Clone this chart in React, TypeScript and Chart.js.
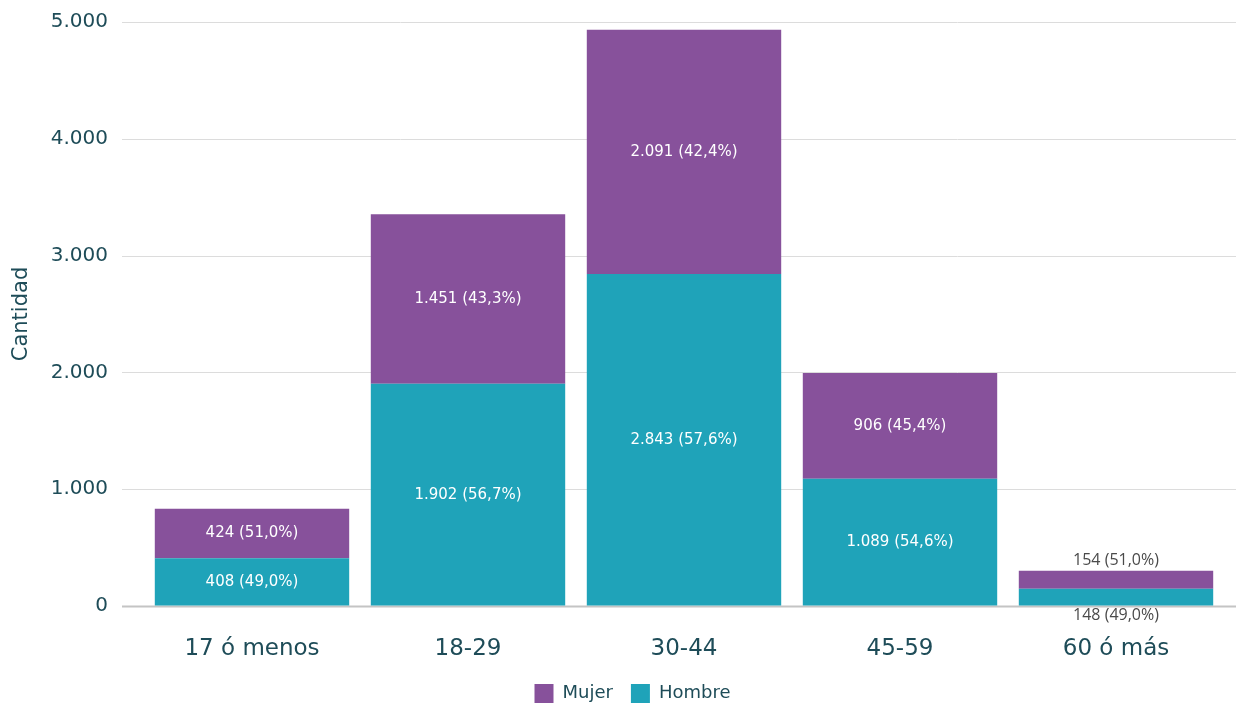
import React, { useEffect, useRef } from "react";
import { Chart, registerables } from "chart.js";

Chart.register(...registerables);

const categories = ["17 ó menos", "18-29", "30-44", "45-59", "60 ó más"];
const mujer = [424, 1451, 2091, 906, 154];
const hombre = [408, 1902, 2843, 1089, 148];
const yTicks = [0, 1000, 2000, 3000, 4000, 5000];

const PURPLE = "#87519B";
const TEAL = "#1FA3B9";
const TEXT = "#1E4C58";
const FONT = "'DejaVu Sans', sans-serif";

function fmtInt(v: number): string {
  const s = Math.round(v).toString();
  return s.replace(/\B(?=(\d{3})+(?!\d))/g, ".");
}
function fmtPct(p: number): string {
  return p.toFixed(1).replace(".", ",") + "%";
}

const gridPlugin = {
  id: "extGrid",
  beforeDatasetsDraw(chart: any) {
    const { ctx } = chart;
    const y = chart.scales.y;
    ctx.save();
    yTicks.forEach((t) => {
      const py = Math.round(y.getPixelForValue(t)) + 0.5;
      ctx.beginPath();
      ctx.strokeStyle = t === 0 ? "#c4c4c4" : "#dcdcdc";
      ctx.lineWidth = t === 0 ? 2 : 1;
      ctx.moveTo(122, py);
      ctx.lineTo(chart.width, py);
      ctx.stroke();
    });
    ctx.restore();
  },
};

const labelPlugin = {
  id: "barLabels",
  afterDatasetsDraw(chart: any) {
    const { ctx } = chart;
    const last = categories.length - 1;
    ctx.save();
    ctx.textAlign = "center";
    ctx.textBaseline = "middle";
    chart.data.datasets.forEach((ds: any, di: number) => {
      const meta = chart.getDatasetMeta(di);
      meta.data.forEach((bar: any, i: number) => {
        const total = mujer[i] + hombre[i];
        const v = ds.data[i];
        const text = fmtInt(v) + " (" + fmtPct((v / total) * 100) + ")";
        const top = Math.min(bar.y, bar.base);
        const bottom = Math.max(bar.y, bar.base);
        if (i === last) {
          ctx.font = "16px 'Open Sans', sans-serif";
          ctx.fillStyle = "#4a4a4a";
          if (ds.label === "Mujer") {
            ctx.fillText(text, bar.x, top - 10);
          } else {
            ctx.fillText(text, bar.x, bottom + 10);
          }
        } else {
          ctx.font = "15px " + FONT;
          ctx.fillStyle = "#ffffff";
          ctx.fillText(text, bar.x, (top + bottom) / 2);
        }
      });
    });
    ctx.restore();
  },
};

export default function App() {
  const ref = useRef<HTMLCanvasElement | null>(null);
  useEffect(() => {
    if (!ref.current) return;
    const chart = new Chart(ref.current, {
      type: "bar",
      data: {
        labels: categories,
        datasets: [
          {
            label: "Hombre",
            data: hombre,
            backgroundColor: TEAL,
            stack: "s",
          },
          {
            label: "Mujer",
            data: mujer,
            backgroundColor: PURPLE,
            stack: "s",
          },
        ],
      },
      options: {
        animation: false,
        responsive: true,
        maintainAspectRatio: false,
        layout: { padding: { top: 0, right: 12, bottom: -9, left: 41 } },
        datasets: { bar: { barPercentage: 0.9, categoryPercentage: 1 } },
        scales: {
          x: {
            stacked: true,
            grid: { display: false, drawTicks: false },
            border: { display: false },
            ticks: {
              padding: 29,
              color: TEXT,
              font: { family: FONT, size: 23 },
            },
            afterFit: (s: any) => {
              s.height = 60;
            },
          },
          y: {
            stacked: true,
            min: 0,
            max: 5000,
            afterBuildTicks: (s: any) => {
              s.ticks = yTicks.map((v) => ({ value: v }));
            },
            grid: {
              display: true,
              drawOnChartArea: false,
              drawTicks: true,
              tickLength: 26,
              color: "rgba(0,0,0,0)",
            },
            border: { display: false },
            ticks: {
              padding: 10,
              color: TEXT,
              font: { family: FONT, size: 20 },
              callback: (v: any) => fmtInt(Number(v)),
            },
            title: {
              display: true,
              text: "Cantidad",
              color: TEXT,
              font: { family: FONT, size: 21 },
              padding: { top: -32, bottom: 0 },
            },
            afterFit: (s: any) => {
              s.width = 103;
            },
          },
        },
        plugins: {
          legend: {
            position: "bottom",
            reverse: true,
            labels: {
              boxWidth: 19,
              boxHeight: 19,
              padding: 18,
              color: TEXT,
              font: { family: FONT, size: 18 },
            },
          },
          tooltip: { enabled: false },
        },
      },
      plugins: [gridPlugin, labelPlugin],
    } as any);
    return () => chart.destroy();
  }, []);
  return (
    <div style={{ position: "fixed", left: 0, top: 0, width: 1236, height: 704, background: "#fff" }}>
      <canvas ref={ref} />
    </div>
  );
}
